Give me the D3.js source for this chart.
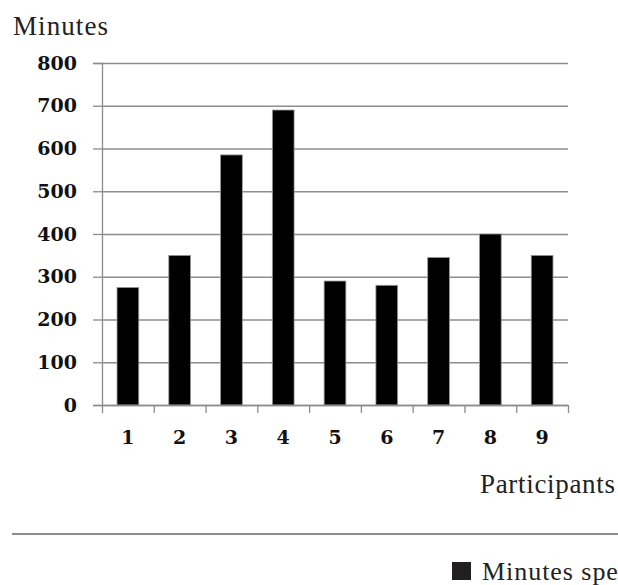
<!DOCTYPE html>
<html>
<head>
<meta charset="utf-8">
<script src="https://cdn.jsdelivr.net/npm/d3@7"></script>
<style>
    body { margin: 0; background: #fff; overflow: hidden; }
    svg { display: block; }
</style>
</head>
<body>
<div id="chart-container"></div>
<script>
// data
var participants = ["1", "2", "3", "4", "5", "6", "7", "8", "9"];
var minutesSpent = [275, 350, 585, 690, 290, 280, 345, 400, 350];
var yTicks = [0, 100, 200, 300, 400, 500, 600, 700, 800];
var legendLabel = "Minutes spent";

var data = participants.map(function (p, i) {
    return { name: p, amount: minutesSpent[i] };
});

var svg = d3.select("#chart-container")
    .append("svg")
    .attr("width", 618)
    .attr("height", 585);

var plotLeft = 102, plotRight = 568, plotTop = 63, plotBottom = 405;

var x = d3.scaleBand()
    .domain(participants)
    .range([plotLeft, plotRight])
    .paddingInner(0.58)
    .paddingOuter(0.29);

// boundary ticks between categories
var xEdge = d3.scaleLinear()
    .domain([0, participants.length])
    .range([plotLeft, plotRight]);

var y = d3.scaleLinear()
    .domain([0, 800])
    .range([plotBottom, plotTop]);

var axisColor = "#8c8c8c";

// gridlines
svg.append("g")
    .attr("transform", "translate(" + plotLeft + ",0)")
    .call(d3.axisLeft(y).tickValues(yTicks).tickSize(-(plotRight - plotLeft)).tickFormat(""))
    .call(function (g) { g.select(".domain").remove(); })
    .selectAll("line")
    .attr("stroke", axisColor)
    .attr("stroke-width", 1.3);

// y axis
var yAxis = svg.append("g")
    .attr("transform", "translate(" + plotLeft + ",0)")
    .call(d3.axisLeft(y).tickValues(yTicks).tickSize(9).tickPadding(16));
yAxis.select(".domain").attr("stroke", axisColor).attr("stroke-width", 1.3);
yAxis.selectAll("line").attr("stroke", axisColor).attr("stroke-width", 1.3);
yAxis.selectAll("text")
    .style("font-family", "DejaVu Serif")
    .style("font-weight", "bold")
    .style("font-size", "19px")
    .attr("fill", "#111");

// bars
svg.selectAll(".bar")
    .data(data)
    .enter()
    .append("rect")
    .attr("class", "bar")
    .attr("x", function (d) { return x(d.name); })
    .attr("y", function (d) { return y(d.amount); })
    .attr("width", x.bandwidth())
    .attr("height", function (d) { return y(0) - y(d.amount); })
    .attr("fill", "#000")
    .attr("stroke", "#9a9a9a")
    .attr("stroke-width", 0.8);

// x axis line and boundary ticks
var xAxis = svg.append("g")
    .attr("transform", "translate(0," + plotBottom + ")")
    .call(d3.axisBottom(xEdge).tickValues(d3.range(participants.length + 1)).tickSize(8).tickSizeOuter(0).tickFormat(""));
xAxis.select(".domain").attr("stroke", axisColor).attr("stroke-width", 1.3);
xAxis.selectAll("line").attr("stroke", axisColor).attr("stroke-width", 1.3);

// x labels
var xLabels = svg.append("g")
    .attr("transform", "translate(0," + plotBottom + ")")
    .call(d3.axisBottom(x).tickSize(0).tickPadding(26));
xLabels.select(".domain").remove();
xLabels.selectAll("text")
    .style("font-family", "DejaVu Serif")
    .style("font-weight", "bold")
    .style("font-size", "19px")
    .attr("fill", "#111");

// axis titles
svg.append("text")
    .attr("x", 13)
    .attr("y", 35)
    .style("font-family", "Liberation Serif")
    .style("font-size", "27px")
    .attr("textLength", 95)
    .attr("fill", "#222")
    .text("Minutes");

svg.append("text")
    .attr("x", 480)
    .attr("y", 493)
    .style("font-family", "Liberation Serif")
    .style("font-size", "27px")
    .attr("textLength", 135)
    .attr("fill", "#222")
    .text("Participants");

// separator line
svg.append("line")
    .attr("x1", 12)
    .attr("x2", 618)
    .attr("y1", 534)
    .attr("y2", 534)
    .attr("stroke", "#666")
    .attr("stroke-width", 1.3);

// legend (cut off at the right edge, as in the reference)
svg.append("rect")
    .attr("x", 452)
    .attr("y", 562)
    .attr("width", 19)
    .attr("height", 18)
    .attr("fill", "#231f20");

svg.append("text")
    .attr("x", 482)
    .attr("y", 580)
    .style("font-family", "Liberation Serif")
    .style("font-size", "26px")
    .attr("textLength", 158)
    .attr("fill", "#222")
    .text(legendLabel);
</script>
</body>
</html>
